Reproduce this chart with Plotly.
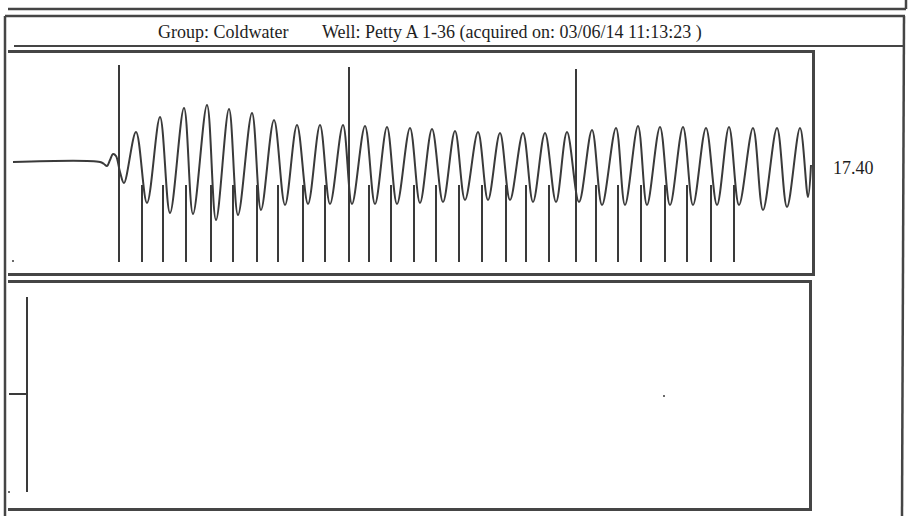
import plotly.graph_objects as go

# ---------------- data ----------------
# upper trace: time (samples) vs amplitude
pre_x = [5, 92, 96, 99, 102, 105, 108, 112, 116]
pre_y = [0, 0, -2, -4, 2, 8, 6, -10, -21]

peak_x = [128, 152, 176, 199, 221, 244, 266, 289, 312, 335, 357, 379, 402, 424, 447,
          470, 492, 515, 537, 559, 584, 608, 630, 652, 675, 698, 721, 745, 769, 792]
peak_y = [30, 45, 54, 57, 53, 49, 42, 37, 37, 37, 36, 35, 34, 33, 31,
          30, 29, 29, 29, 30, 32, 34, 36, 35, 35, 34, 35, 34, 34, 34]

trough_x = [139, 162, 185, 208, 230, 253, 277, 300, 322, 344, 367, 389, 412, 435, 457,
            480, 502, 525, 548, 571, 594, 617, 639, 662, 685, 709, 731, 755, 779, 800]
trough_y = [-41, -51, -52, -58, -53, -48, -43, -42, -42, -42, -42, -42, -41, -40, -38,
            -38, -38, -40, -40, -40, -43, -43, -43, -43, -43, -43, -43, -48, -45, -35]

end_x = [803]
end_y = [-3]

# collar / marker spikes
tall_spike_x = [111, 341, 568]
tall_spike_top = [97, 95, 93]
spike_bottom = -100
down_spike_x = [134, 155, 178, 203, 225, 249, 270, 295, 317, 361, 383, 406, 428, 451,
                474, 498, 518, 541, 588, 610, 633, 657, 679, 703, 726]
down_spike_top = -23

# lower panel
low_line_x = [19, 19]
low_line_y = [97, -98]
low_stub_x = [1, 19]
low_stub_y = [0, 0]
low_dots_x = [1, 656]
low_dots_y = [-98, -2]
up_dot_x = [5]
up_dot_y = [-99]

value_label = "17.40"
title_group = "Group: Coldwater"
title_well = "Well: Petty A 1-36 (acquired on: 03/06/14 11:13:23 )"

# ---------------- build ----------------
W, H = 909, 516
def PX(x): return x / W
def PY(y): return 1 - y / H

INK = "#3a3a3a"
FRAME = "#454545"

pts = list(zip(pre_x, pre_y))
pts += list(zip(peak_x, peak_y)) + list(zip(trough_x, trough_y))
pts += list(zip(end_x, end_y))
pts[len(pre_x):] = sorted(pts[len(pre_x):])
wx = [p[0] for p in pts]
wy = [p[1] for p in pts]

fig = go.Figure()
fig.add_trace(go.Scatter(x=wx, y=wy, mode="lines",
                         line=dict(color=INK, width=2, shape="spline", smoothing=1.0),
                         xaxis="x", yaxis="y", hoverinfo="skip"))

sx, sy = [], []
for x, t in zip(tall_spike_x, tall_spike_top):
    sx += [x, x, None]; sy += [t, spike_bottom, None]
for x in down_spike_x:
    sx += [x, x, None]; sy += [down_spike_top, spike_bottom, None]
fig.add_trace(go.Scatter(x=sx, y=sy, mode="lines", line=dict(color=INK, width=2),
                         xaxis="x", yaxis="y", hoverinfo="skip"))
fig.add_trace(go.Scatter(x=up_dot_x, y=up_dot_y, mode="markers",
                         marker=dict(color=INK, size=2), xaxis="x", yaxis="y"))

fig.add_trace(go.Scatter(x=low_line_x, y=low_line_y, mode="lines",
                         line=dict(color=INK, width=2), xaxis="x2", yaxis="y2"))
fig.add_trace(go.Scatter(x=low_stub_x, y=low_stub_y, mode="lines",
                         line=dict(color=INK, width=2), xaxis="x2", yaxis="y2"))
fig.add_trace(go.Scatter(x=low_dots_x, y=low_dots_y, mode="markers",
                         marker=dict(color=INK, size=2), xaxis="x2", yaxis="y2"))

axcommon = dict(showgrid=False, zeroline=False, showticklabels=False, ticks="",
                showline=True, linecolor=FRAME, linewidth=2.5, fixedrange=True)

fig.update_layout(
    width=W, height=H, margin=dict(l=0, r=0, t=0, b=0),
    paper_bgcolor="white", plot_bgcolor="white", showlegend=False,
    xaxis=dict(domain=[PX(8), PX(812)], range=[0, 804], mirror=True, anchor="y", **axcommon),
    yaxis=dict(domain=[PY(273), PY(53)], range=[-111, 109], side="right", anchor="x", **axcommon),
    xaxis2=dict(domain=[PX(8), PX(809)], range=[0, 801], mirror=True, anchor="y2", **axcommon),
    yaxis2=dict(domain=[PY(508), PY(283)], range=[-114, 111], side="right", anchor="x2", **axcommon),
)

def seg(x0, y0, x1, y1, w=2.5):
    fig.add_shape(type="line", xref="paper", yref="paper",
                  x0=PX(x0), y0=PY(y0), x1=PX(x1), y1=PY(y1),
                  line=dict(color=FRAME, width=w))

# previous box bottom edge
seg(8, 9, 906, 9)
seg(906, 0, 906, 9)
# outer box
seg(5, 16, 905, 16)
seg(5, 16, 5, 516)
seg(904, 16, 902, 516)
# title separator
seg(14, 46, 905, 46, 2)

font = dict(family="Liberation Serif, Times New Roman, serif", size=18, color="#1e1e1e")
fig.add_annotation(x=PX(156), y=PY(32), xref="paper", yref="paper", text=title_group,
                   showarrow=False, xanchor="left", yanchor="middle", font=font)
fig.add_annotation(x=PX(320), y=PY(32), xref="paper", yref="paper", text=title_well,
                   showarrow=False, xanchor="left", yanchor="middle", font=font)
fig.add_annotation(x=PX(831), y=PY(168), xref="paper", yref="paper", text=value_label,
                   showarrow=False, xanchor="left", yanchor="middle", font=font)

fig.write_html("out.html", config={"displayModeBar": False},
               post_script="document.body.style.margin='0';document.body.style.overflow='hidden';")
